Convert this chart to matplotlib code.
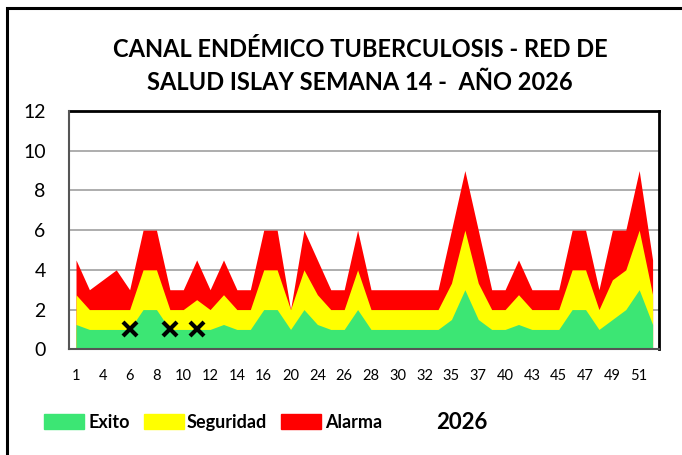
import matplotlib
matplotlib.use("Agg")
import matplotlib.pyplot as plt
import numpy as np
from matplotlib.patches import Rectangle

semanas = [1, 3, 4, 5, 6, 7, 8, 9, 10, 11, 12, 13, 14, 15, 16, 18, 20, 22, 24, 25,
           26, 27, 28, 29, 30, 31, 32, 33, 35, 36, 37, 38, 40, 42, 43, 44, 45, 46,
           47, 48, 49, 50, 51, 52]

exito = [1.25, 1, 1, 1, 1, 2, 2, 1, 1, 1, 1, 1.25, 1, 1, 2, 2, 1, 2, 1.25, 1,
         1, 2, 1, 1, 1, 1, 1, 1, 1.5, 3, 1.5, 1, 1, 1.25, 1, 1, 1, 2, 2, 1,
         1.5, 2, 3, 1.25]

seguridad = [2.75, 2, 2, 2, 2, 4, 4, 2, 2, 2.5, 2, 2.75, 2, 2, 4, 4, 2, 4, 2.75, 2,
             2, 4, 2, 2, 2, 2, 2, 2, 3.33, 6, 3.33, 2, 2, 2.75, 2, 2, 2, 4, 4, 2,
             3.5, 4, 6, 2.75]

alarma = [4.5, 3, 3.5, 4, 3, 6, 6, 3, 3, 4.5, 3, 4.5, 3, 3, 6, 6, 2, 6, 4.5, 3,
          3, 6, 3, 3, 3, 3, 3, 3, 6, 9, 6, 3, 3, 4.5, 3, 3, 3, 6, 6, 3,
          6, 6, 9, 4.5]

casos_2026 = [np.nan, np.nan, np.nan, np.nan, 1, np.nan, np.nan, 1, np.nan, 1] + [np.nan] * 34

titulo = "CANAL ENDÉMICO TUBERCULOSIS - RED DE\nSALUD ISLAY SEMANA 14 -  AÑO 2026"

c_green = "#3CE674"
c_yellow = "#FFFF00"
c_red = "#FF0000"

plt.rcParams['font.family'] = ['Lato', 'DejaVu Sans']

W, H = 682, 455
fig = plt.figure(figsize=(W / 100, H / 100), dpi=100)

# outer chart border
fig.patches.append(Rectangle((7 / W, -0.1), 1.2, 1.1 - 8.5 / H, transform=fig.transFigure,
                             fill=False, edgecolor="black", linewidth=2.2))

ax = fig.add_axes([69.3 / W, 1 - 349.3 / H, 590 / W, 238.3 / H])
x = np.arange(len(semanas))
ax.fill_between(x, 0, alarma, color=c_red, linewidth=0, label="Alarma", zorder=2)
ax.fill_between(x, 0, seguridad, color=c_yellow, linewidth=0, label="Seguridad", zorder=3)
ax.fill_between(x, 0, exito, color=c_green, linewidth=0, label="Exito", zorder=4)
ax.plot(x, casos_2026, linestyle="none", marker="x", color="black", markersize=10,
        markeredgewidth=3, zorder=5, label="2026")

ax.set_xlim(-0.5, len(semanas) - 0.5)
ax.set_ylim(0, 12)
ax.set_yticks(np.arange(0, 13, 2))
ax.set_xticks(x[::2])
ax.set_xticklabels([str(s) for s in semanas[::2]])
ax.yaxis.grid(True, color="#A0A0A0", linewidth=1.2)
ax.set_axisbelow(True)
ax.tick_params(axis="x", length=0, pad=14, labelsize=10.5)
ax.tick_params(axis="y", length=0, pad=17, labelsize=14)
for s in ["top", "right"]:
    ax.spines[s].set_color("black")
    ax.spines[s].set_linewidth(2)
for s in ["left", "bottom"]:
    ax.spines[s].set_color("#555555")
    ax.spines[s].set_linewidth(1.5)
    ax.spines[s].set_zorder(6)

fig.text(360 / W, 1 - 66 / H, titulo, ha="center", va="center", fontsize=17,
         fontweight="bold", linespacing=1.55)

# legend
items = [(44, 88, c_green, "Exito"), (144, 187, c_yellow, "Seguridad"), (281, 325, c_red, "Alarma")]
for bx, tx, col, lab in items:
    fig.patches.append(Rectangle((bx / W, 1 - 429 / H), 40 / W, 15 / H,
                                 transform=fig.transFigure, color=col))
    fig.text(tx / W, 1 - 428 / H, lab, ha="left", va="baseline", fontsize=13, fontweight="bold")
fig.text(462 / W, 1 - 429 / H, "2026", ha="center", va="baseline", fontsize=16,
         fontweight="bold")

fig.savefig("out.png", dpi=100)
